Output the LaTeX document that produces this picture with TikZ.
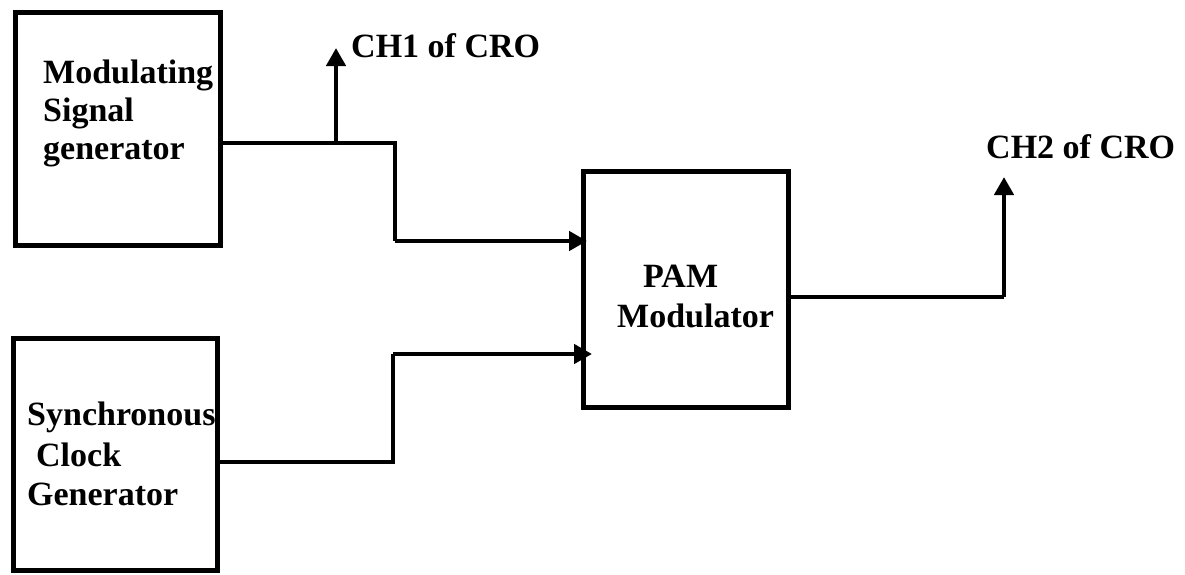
\documentclass[tikz,border=0pt]{standalone}
\usepackage{fontspec}
\setmainfont{Liberation Serif}
\usetikzlibrary{arrows.meta}
\begin{document}
\begin{tikzpicture}[x=1pt,y=-1pt,
  blockbox/.style={draw=black,line width=5pt,fill=none},
  lbl/.style={anchor=base west,inner sep=0pt,font=\fontsize{34}{38}\selectfont\bfseries},
  wire/.style={draw=black,line width=4.5pt},
  arrowwire/.style={wire,-{Triangle[width=19pt,length=18pt]}}]
\useasboundingbox[fill=white] (0,0) rectangle (1185,574);
% boxes
\draw[blockbox] (15,12) rectangle (220,245);
\coordinate (modE) at (220,143);
\draw[blockbox] (13,338) rectangle (217,570);
\coordinate (clkE) at (217,462);
\draw[blockbox] (583,171) rectangle (788,407);
\coordinate (pamW1) at (587,241);
\coordinate (pamW2) at (592,354);
\coordinate (pamE) at (786,297);
% texts
\node[lbl] (t1) at (43,83) {Modulating};
\node[lbl] (t2) at (43,121) {Signal};
\node[lbl] (t3) at (43,159) {generator};
\node[lbl] (t4) at (27,425) {Synchronous};
\node[lbl] (t5) at (36,466) {Clock};
\node[lbl] (t6) at (27,505) {Generator};
\node[lbl] (t7) at (643,287) {PAM};
\node[lbl] (t8) at (617,327) {Modulator};
\node[lbl] (ch1) at (351,57) {CH1 of CRO};
\node[lbl] (ch2) at (986,158) {CH2 of CRO};
% connectors
\coordinate (j1) at (395,143);
\coordinate (c1) at (395,241);
\coordinate (b1) at (336,143);
\coordinate (ch1tip) at (336,48);
\coordinate (j2) at (393,462);
\coordinate (c2) at (393,354);
\coordinate (o1) at (1004,297);
\coordinate (ch2tip) at (1004,177);
\draw[wire] (modE) -- (j1) -- (c1);
\draw[arrowwire] (c1) -- (pamW1);
\draw[arrowwire] (b1) -- (ch1tip);
\draw[wire] (clkE) -- (j2) -- (c2);
\draw[arrowwire] (c2) -- (pamW2);
\draw[wire] (pamE) -- (o1);
\draw[arrowwire] (o1) -- (ch2tip);
\end{tikzpicture}
\end{document}
